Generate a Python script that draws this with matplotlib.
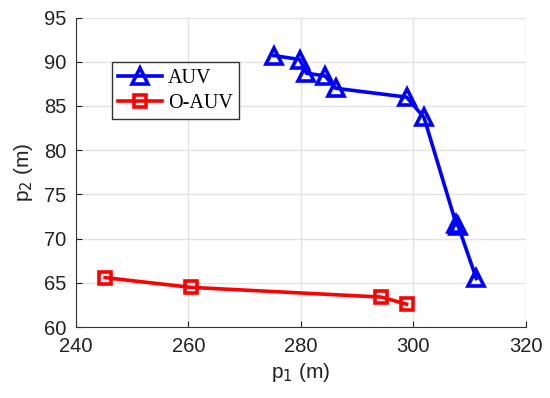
import matplotlib.pyplot as plt

# AUV trajectory (p1, p2)
auv_p1 = [275.2, 279.8, 281.0, 284.3, 286.2, 298.8, 301.9, 307.6, 308.0, 311.2]
auv_p2 = [90.7, 90.25, 88.7, 88.4, 87.0, 86.0, 83.7, 71.7, 71.4, 65.5]
# O-AUV trajectory
oauv_p1 = [245.2, 260.4, 294.3, 298.8]
oauv_p2 = [65.6, 64.5, 63.4, 62.6]

xticks = [240, 260, 280, 300, 320]
yticks = [60, 65, 70, 75, 80, 85, 90, 95]

plt.rcParams['font.family'] = ['Liberation Sans', 'DejaVu Sans']
fig = plt.figure(figsize=(5.5, 3.98), dpi=100)
ax = fig.add_axes([0.138, 0.178, 0.818, 0.778])

ax.plot(auv_p1, auv_p2, color="blue", lw=2.6, marker="^", ms=11,
        mfc="none", mew=2.6, label="AUV")
ax.plot(oauv_p1, oauv_p2, color="red", lw=2.6, marker="s", ms=8.5,
        mfc="none", mew=2.6, label="O-AUV")

ax.set_xlim(240, 320)
ax.set_ylim(60, 95)
ax.set_xticks(xticks)
ax.set_yticks(yticks)
ax.grid(True, color="#e3e3e3", lw=1)
ax.set_axisbelow(True)
for s in ["top", "right"]:
    ax.spines[s].set_visible(False)
for s in ["left", "bottom"]:
    ax.spines[s].set_color("#333333")
ax.tick_params(direction="in", length=4, labelsize=14.5, colors="#222222",
               pad=7)
ax.set_xlabel("p$_1$ (m)", fontsize=15, color="#222222", labelpad=4)
ax.set_ylabel("p$_2$ (m)", fontsize=15, color="#222222", labelpad=6)

leg = ax.legend(loc="upper left", bbox_to_anchor=(0.08, 0.855),
                prop={"family": "Liberation Serif", "size": 14.5},
                fancybox=False, edgecolor="#333333", framealpha=1,
                handlelength=2.2, borderpad=0.3, labelspacing=0.3,
                handletextpad=0.3, borderaxespad=0)
leg.get_frame().set_linewidth(1)

plt.savefig("out.png", dpi=100)
